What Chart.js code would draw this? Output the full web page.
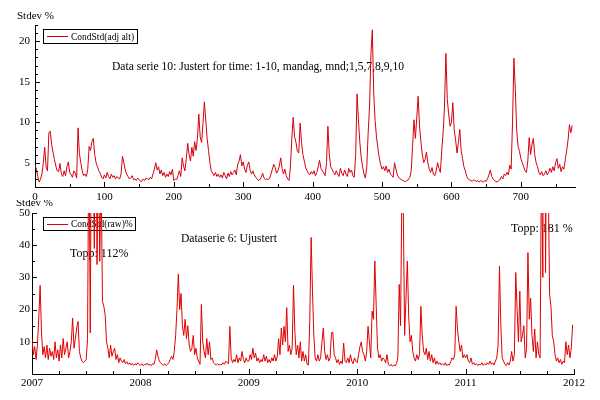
<!DOCTYPE html>
<html>
<head>
<meta charset="utf-8">
<script src="https://cdn.jsdelivr.net/npm/chart.js@4.4.1/dist/chart.umd.min.js"></script>
<style>
  html, body { margin: 0; padding: 0; background: #fff; }
  canvas { display: block; }
</style>
</head>
<body>
<canvas id="adjChart" width="600" height="200"></canvas>
<canvas id="rawChart" width="600" height="200"></canvas>
<script>
// top panel: CondStd(adj alt), one value per 2 observations
const adjStep = 2;
const adjValues = [
  4.7,4.2,3.3,2.6,3.0,3.6,5.0,6.9,4.5,4.0,8.7,8.9,7.2,6.3,5.4,4.6,4.0,3.9,4.9,3.6,
  3.3,4.0,3.4,4.5,5.1,3.8,3.5,3.2,4.0,3.7,3.1,9.3,6.1,5.0,4.0,3.4,3.6,3.3,4.2,7.0,
  6.5,7.6,8.0,6.0,5.0,4.5,4.0,3.7,3.2,3.0,3.5,3.1,3.8,3.3,3.0,3.6,3.2,3.4,3.0,3.3,
  3.1,3.0,3.6,5.8,5.0,4.1,3.6,3.3,3.0,3.1,3.4,2.9,3.0,2.8,3.1,2.9,2.7,2.7,3.0,2.8,
  3.1,3.0,2.9,3.2,3.0,3.6,4.2,5.0,4.1,4.5,3.6,4.1,3.4,3.8,3.2,3.6,3.3,3.9,3.5,4.2,
  2.8,3.0,2.9,3.4,4.0,3.3,5.6,4.6,4.0,5.5,7.4,6.0,5.2,6.9,5.8,7.6,6.5,8.0,11.0,8.2,
  7.5,9.8,12.5,10.3,8.0,6.5,5.0,4.0,3.7,3.4,3.8,3.3,3.6,3.2,3.5,3.1,3.8,3.4,3.0,3.7,
  3.3,3.9,3.5,3.8,4.1,3.5,4.8,5.2,6.0,4.6,5.1,4.2,3.8,4.7,5.1,4.0,3.6,4.0,3.5,3.2,
  3.0,2.8,2.9,3.2,3.7,3.1,2.9,3.0,2.9,3.1,3.6,4.2,4.8,4.4,3.7,4.0,4.6,5.6,4.3,3.6,
  4.2,3.4,3.0,2.8,4.5,8.0,10.6,8.2,7.5,6.4,6.2,9.9,7.5,6.0,5.2,4.4,4.0,3.7,3.5,3.9,
  3.6,4.0,3.4,3.8,4.5,5.3,4.3,4.0,3.7,3.4,5.0,9.5,6.0,4.5,4.2,3.8,3.5,4.0,3.6,3.3,
  4.3,3.7,3.4,4.1,3.6,3.3,4.3,3.8,4.1,3.4,3.2,6.0,13.5,10.3,7.5,5.6,4.5,3.6,3.1,4.5,
  8.7,12.0,18.5,21.4,13.6,10.2,8.2,6.8,5.6,4.8,4.2,4.5,4.0,4.6,3.8,4.2,3.6,3.4,3.2,5.0,
  4.2,3.5,3.2,3.0,2.9,2.8,2.7,2.7,2.8,2.9,3.2,4.0,7.0,10.3,8.0,10.5,13.2,9.5,7.6,6.0,
  5.0,5.4,6.3,5.0,4.2,3.8,4.4,3.6,3.4,4.0,5.0,4.3,3.8,6.5,8.7,12.0,18.5,12.8,11.0,9.5,
  10.0,12.4,9.0,7.8,6.2,7.5,9.1,6.5,5.5,4.5,4.0,3.3,3.0,2.9,2.8,2.7,2.9,2.8,2.7,2.8,
  2.6,2.8,2.7,2.6,2.8,2.7,3.0,3.5,4.1,3.3,3.0,2.8,2.7,2.6,2.8,2.9,3.3,3.0,3.6,3.4,
  3.8,3.5,4.7,4.2,10.0,17.9,14.0,9.0,7.0,6.4,5.5,5.0,4.5,4.0,3.8,5.2,8.1,6.0,7.2,8.0,
  6.0,5.0,4.5,3.8,3.5,3.9,3.4,3.6,4.0,3.5,3.8,4.3,3.8,4.5,4.0,5.0,5.5,4.3,4.8,3.9,
  4.5,4.2,5.4,6.5,7.8,9.7,8.7,9.6
];
const adjXTicks = [0, 100, 200, 300, 400, 500, 600, 700];
const adjYTicks = [5, 10, 15, 20];

// bottom panel: CondStd(raw)%, 80 values per year from 2007
const rawStart = 2007;
const rawPerYear = 80;
const rawValues = [
  // 2007
  11,6,8.5,4.5,9,17.4,27.5,13,6,8.5,5,9,4.5,8,5.5,7,4.5,10,5,7.5,
  4,9,5,11,6,8,10,5,7,10,17.4,8,11,14.3,16.3,7,5,3.9,3.5,4,
  4.5,11,80,12.8,95,70,39,112,34,75,35,65,22.6,21,18.4,10,8,5,9,5.5,
  7,8,4.5,6,3.5,5,4,3.5,4.5,3.2,3.8,3,3.5,2.8,3.3,2.7,3.2,2.8,3.5,3,
  // 2008
  2.7,3.2,2.6,3.0,2.8,3.4,2.7,3.0,2.6,3.2,3.0,4.5,7.5,5.5,4.0,3.5,3.0,2.7,3.2,2.6,
  3.0,3.5,4.5,5.5,4.5,7,12,20,31,20,25,15,12,17,11,15,9,7,8,12,
  6,8,5,4,3,21.6,10,7,5,11,6,10,4.5,5,3.5,3,2.8,3.2,2.7,3,
  2.8,3.5,3,4,3.5,3.2,14.8,5,3.5,4.5,3.8,6,3.5,5,4,7,4.5,3.5,5,4,
  // 2009
  4,6,4.5,8,5,6.5,4,5,3.5,4.5,3.8,6,4,5.5,3.5,4.5,3.5,5,4,6,
  4,5.5,11,6,14.3,9,14.8,10,20.6,7,9,6,8,27.6,13,6,9,5,10,4,
  7,4,6,3,2.8,16.4,42.4,25.7,12,5,4,6,4,5,10,14.3,7,4.5,6,4,
  5,12.8,13,6,5,3.5,4.5,3,4,3.2,9.6,4,3.5,5,3.5,6,4,3.2,5,4,
  // 2010
  3.5,6,8.4,10,7,6,4,7,14.8,10,5,19.5,17,35.1,21.6,8,5,6,4,5,
  4.5,3.5,6,3,2.5,3,2.4,2.8,2.5,3.2,5,27.8,15,58,52,12,23.6,35.1,18,10,
  12,7,5,4,6,4.5,6,21,12,7,6,8,4.5,7,4,6,3.5,5,3,4,
  3,3.5,2.8,3.2,2.7,3.5,2.6,3,2.8,3.8,5,4.5,6,21,14,10,7,9,5,6,
  // 2011
  5,6,4,3.5,5,3,3.5,2.8,3.2,2.6,3,2.8,3.5,2.7,3.2,2.8,3.5,3,4,3,
  3.5,2.8,4,5,9,33.5,15,5,4,3,2.6,3.5,2.8,4,7,4,6,31.5,20,10,
  25.7,10,12,15,5,8,37.7,17,23.6,12,7,14,5,10,6,5,70,30,181,31.5,
  95,60,24.7,21,12,10,6,4,5,3.5,4.5,3,4,3.5,10,6,9,5,8,15.3
];
const rawXTicks = [2007, 2008, 2009, 2010, 2011, 2012];
const rawYTicks = [10, 20, 30, 40, 50];

const lineRed = '#d4000e';
Chart.defaults.font.family = '"Liberation Serif", "DejaVu Serif", serif';
Chart.defaults.font.size = 11;
Chart.defaults.color = '#000';

// text, legend box and inward tick marks
const panelDecor = {
  id: 'panelDecor',
  beforeDatasetsDraw(chart, args, opts) {
    const ctx = chart.ctx;
    ctx.save();
    ctx.fillStyle = '#000';
    ctx.textBaseline = 'alphabetic';
    opts.texts.forEach(t => {
      ctx.font = t.size + 'px "Liberation Serif", serif';
      ctx.fillText(t.text, t.x, t.y);
    });
    const lg = opts.legend;
    ctx.strokeStyle = '#000';
    ctx.lineWidth = 1;
    ctx.strokeRect(lg.x + 0.5, lg.y + 0.5, lg.w, lg.h);
    const my = Math.round(lg.y + lg.h / 2) + 0.5;
    ctx.strokeStyle = opts.color;
    ctx.beginPath();
    ctx.moveTo(lg.x + 4, my);
    ctx.lineTo(lg.x + 25, my);
    ctx.stroke();
    ctx.font = '9.5px "Liberation Serif", serif';
    ctx.fillText(lg.label, lg.x + 28, lg.y + lg.h - 3);
    ctx.restore();
  },
  afterDraw(chart, args, opts) {
    const ctx = chart.ctx;
    ctx.save();
    ctx.strokeStyle = '#000';
    ctx.lineWidth = 1;
    ctx.beginPath();
    ['x', 'y'].forEach(axis => {
      const s = chart.scales[axis];
      const { major, minor } = opts.ticks[axis];
      const start = Math.ceil(s.min / minor - 1e-9) * minor;
      for (let v = start; v <= s.max + 1e-9; v += minor) {
        const isMajor = Math.abs(v / major - Math.round(v / major)) < 1e-6;
        const len = isMajor ? 5 : 3;
        const p = Math.round(s.getPixelForValue(v)) + 0.5;
        if (axis === 'x') {
          ctx.moveTo(p, s.top);
          ctx.lineTo(p, s.top - len);
        } else {
          ctx.moveTo(s.right, p);
          ctx.lineTo(s.right + len, p);
        }
      }
    });
    ctx.stroke();
    ctx.restore();
  }
};

function axisBase(tickList, pad, fitSize, isX) {
  return {
    type: 'linear',
    grid: { display: false, drawTicks: false },
    border: { display: true, color: '#000', width: 1 },
    ticks: { padding: pad, autoSkip: false, maxRotation: 0, callback: v => String(v) },
    afterBuildTicks: s => { s.ticks = tickList.map(v => ({ value: v })); },
    afterFit: s => { if (isX) s.height = fitSize; else s.width = fitSize; }
  };
}

new Chart(document.getElementById('adjChart'), {
  type: 'line',
  data: {
    datasets: [{
      data: adjValues.map((v, i) => ({ x: i * adjStep, y: v })),
      borderColor: lineRed,
      borderWidth: 1,
      pointRadius: 0,
      tension: 0
    }]
  },
  options: {
    responsive: false,
    animation: false,
    layout: { padding: { left: 0, top: 25, right: 25, bottom: 0 } },
    scales: {
      x: Object.assign(axisBase(adjXTicks, 4, 13, true), { min: 0, max: 778 }),
      y: Object.assign(axisBase(adjYTicks, 5, 35, false), { min: 2, max: 22 })
    },
    plugins: {
      legend: { display: false },
      tooltip: { enabled: false },
      panelDecor: {
        color: lineRed,
        texts: [
          { text: 'Stdev %', x: 17, y: 19, size: 11 },
          { text: 'Data serie 10: Justert for time: 1-10, mandag, mnd;1,5,7,8,9,10', x: 112, y: 70, size: 11.6 }
        ],
        legend: { x: 43, y: 29, w: 94, h: 14, label: 'CondStd(adj alt)' },
        ticks: { x: { major: 100, minor: 50 }, y: { major: 5, minor: 1 } }
      }
    }
  },
  plugins: [panelDecor]
});

new Chart(document.getElementById('rawChart'), {
  type: 'line',
  data: {
    datasets: [{
      data: rawValues.map((v, i) => ({ x: rawStart + i / rawPerYear, y: v })),
      borderColor: '#e00000',
      borderWidth: 1,
      pointRadius: 0,
      tension: 0
    }]
  },
  options: {
    responsive: false,
    animation: false,
    layout: { padding: { left: 0, top: 13, right: 26, bottom: 0 } },
    scales: {
      x: Object.assign(axisBase(rawXTicks, 3, 26, true), { min: 2007, max: 2012 }),
      y: Object.assign(axisBase(rawYTicks, 2, 32, false), { min: 0, max: 50 })
    },
    plugins: {
      legend: { display: false },
      tooltip: { enabled: false },
      panelDecor: {
        color: '#e00000',
        texts: [
          { text: 'Stdev %', x: 16, y: 6, size: 11 },
          { text: 'Dataserie 6: Ujustert', x: 181, y: 42, size: 11.6 },
          { text: 'Topp: 112%', x: 70, y: 57, size: 12 },
          { text: 'Topp: 181 %', x: 511, y: 32, size: 12 }
        ],
        legend: { x: 43, y: 17, w: 92, h: 13, label: 'CondStd(raw)%' },
        ticks: { x: { major: 1, minor: 0.25 }, y: { major: 10, minor: 5 } }
      }
    }
  },
  plugins: [panelDecor]
});
</script>
</body>
</html>
